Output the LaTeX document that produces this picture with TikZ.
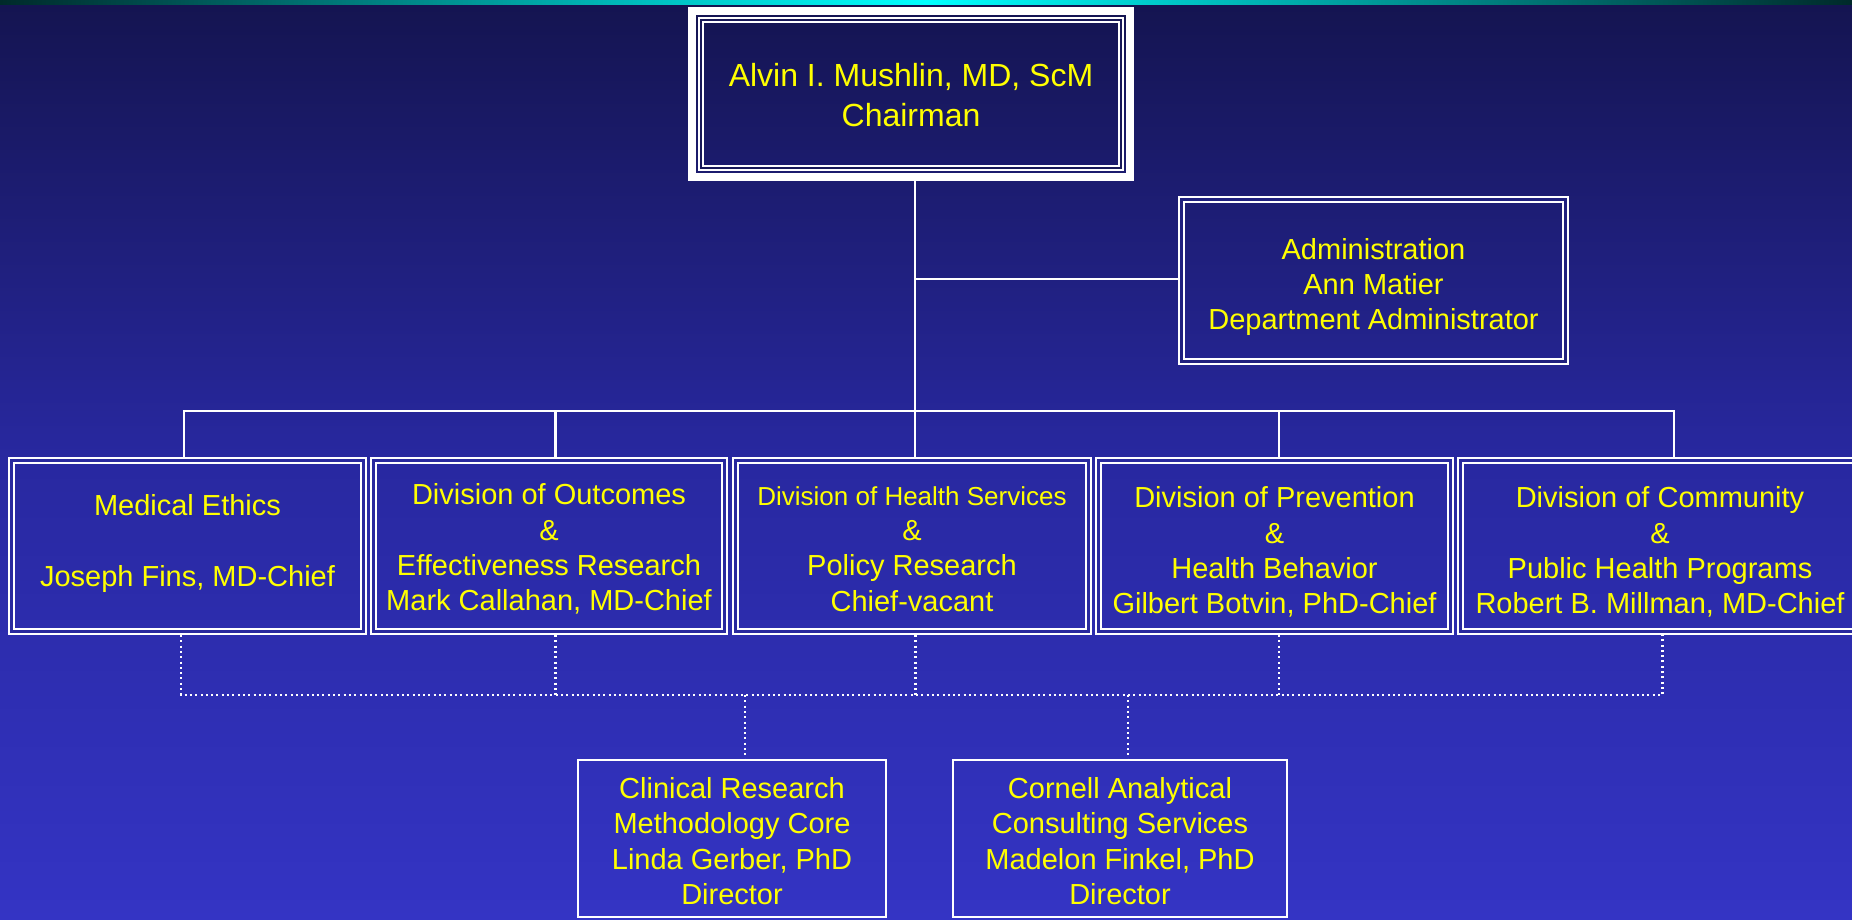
\documentclass[tikz,border=0pt]{standalone}
\usepackage{fontspec}
\setmainfont{Liberation Sans}
\definecolor{bgtop}{HTML}{141450}
\definecolor{bgmid}{HTML}{2828A0}
\definecolor{bgbot}{HTML}{3434C4}
\definecolor{baredge}{HTML}{002A2A}
\definecolor{barmid}{HTML}{00FFFF}
\definecolor{chgap}{HTML}{181858}
\definecolor{admgap}{HTML}{20207E}
\definecolor{divgap}{HTML}{29299E}
\definecolor{txtyellow}{HTML}{FFFF00}
\begin{document}
\begin{tikzpicture}[x=1pt,y=-1pt,
  dbox/.style={draw=white, line width=2pt, double=#1, double distance=3pt, outer sep=3.5pt, inner sep=0pt},
  sbox/.style={draw=white, line width=2.2pt, inner sep=0pt},
  conn/.style={draw=white, line width=2.5pt},
  dotconn/.style={draw=white, line width=2.2pt, dash pattern=on 2pt off 3.3pt},
  txt/.style={text=txtyellow, align=center, font=\fontsize{29}{35.3}\selectfont, inner sep=0pt}]
\useasboundingbox (0,0) rectangle (1852,919);
\shade[top color=bgtop, bottom color=bgbot, middle color=bgmid] (0,0) rectangle (1852,919);
\shade[left color=baredge, right color=baredge, middle color=barmid] (0,0) rectangle (1852,4);

% Chairman
\node[draw=white, line width=8pt, inner sep=0pt, minimum width=438pt, minimum height=166pt] (chair) at (911,94) {};
\draw[white, line width=1.8pt, double=chgap, double distance=2.5pt]
  ([shift={(13,13)}]chair.north west) rectangle ([shift={(-13,-13)}]chair.south east);
\node[txt, font=\fontsize{32}{40}\selectfont] (chairtxt) at ([yshift=-1pt]chair.center) {Alvin I. Mushlin, MD, ScM\\Chairman};

% Administration
\node[dbox=admgap, minimum width=384pt, minimum height=162pt] (adm) at (1373.5,280.5) {};
\node[txt] (admtxt) at ([yshift=-6.5pt]adm.center) {Administration\\Ann Matier\\Department Administrator};

% Divisions
\node[dbox=divgap, minimum width=352pt, minimum height=171pt] (d1) at (187.5,546) {};
\node[dbox=divgap, minimum width=351pt, minimum height=171pt] (d2) at (549,546) {};
\node[dbox=divgap, minimum width=353pt, minimum height=171pt] (d3) at (912,546) {};
\node[dbox=divgap, minimum width=352pt, minimum height=171pt] (d4) at (1274.5,546) {};
\node[dbox=divgap, minimum width=399pt, minimum height=171pt] (d5) at (1660,546) {};

\node[txt] (t1) at ([yshift=2.5pt]d1.center) {Medical Ethics\\[35.3pt]Joseph Fins, MD-Chief};
\node[txt] (t2) at ([yshift=-3pt]d2.center) {Division of Outcomes\\\&\\Effectiveness Research\\Mark Callahan, MD-Chief};
\node[txt] (t3) at ([yshift=-3pt]d3.center) {{\fontsize{26}{35.3}\selectfont Division of Health Services}\\\&\\Policy Research\\Chief-vacant};
\node[txt] (t4) at ([yshift=-6pt]d4.center) {Division of Prevention\\\&\\Health Behavior\\Gilbert Botvin, PhD-Chief};
\node[txt] (t5) at ([yshift=-6pt]d5.center) {Division of Community\\\&\\Public Health Programs\\Robert B. Millman, MD-Chief};

% Cores
\node[sbox, minimum width=308pt, minimum height=157pt] (b1) at (732,838.5) {};
\node[sbox, minimum width=334pt, minimum height=157pt] (b2) at (1120,838.5) {};
\node[txt] (bt1) at ([yshift=-2.5pt]b1.center) {Clinical Research\\Methodology Core\\Linda Gerber, PhD\\Director};
\node[txt] (bt2) at ([yshift=-2.5pt]b2.center) {Cornell Analytical\\Consulting Services\\Madelon Finkel, PhD\\Director};

% Solid connectors
\coordinate (bus1) at (184,411);
\coordinate (bus2) at (555.5,411);
\coordinate (bus3) at (915,411);
\coordinate (bus4) at (1279,411);
\coordinate (bus5) at (1674,411);
\coordinate (admj) at (915,279);
\draw[conn] (chair.south -| bus3) -- (bus3);
\draw[conn] (admj) -- (admj -| adm.west);
\draw[conn] (d1.north -| bus1) -- (bus1) -- (bus5) -- (d5.north -| bus5);
\draw[conn] (bus2) -- (d2.north -| bus2);
\draw[conn] (bus3) -- (d3.north -| bus3);
\draw[conn] (bus4) -- (d4.north -| bus4);

% Dotted connectors
\coordinate (dot1) at (181,695);
\coordinate (dot2) at (555.5,695);
\coordinate (dot3) at (915.5,695);
\coordinate (dot4) at (1279,695);
\coordinate (dot5) at (1662.5,695);
\coordinate (dotA) at (745,695);
\coordinate (dotB) at (1128,695);
\draw[dotconn] (d1.south -| dot1) -- (dot1) -- (dot5) -- (d5.south -| dot5);
\draw[dotconn] (d2.south -| dot2) -- (dot2);
\draw[dotconn] (d3.south -| dot3) -- (dot3);
\draw[dotconn] (d4.south -| dot4) -- (dot4);
\draw[dotconn] (dotA) -- (b1.north -| dotA);
\draw[dotconn] (dotB) -- (b2.north -| dotB);
\end{tikzpicture}
\end{document}
